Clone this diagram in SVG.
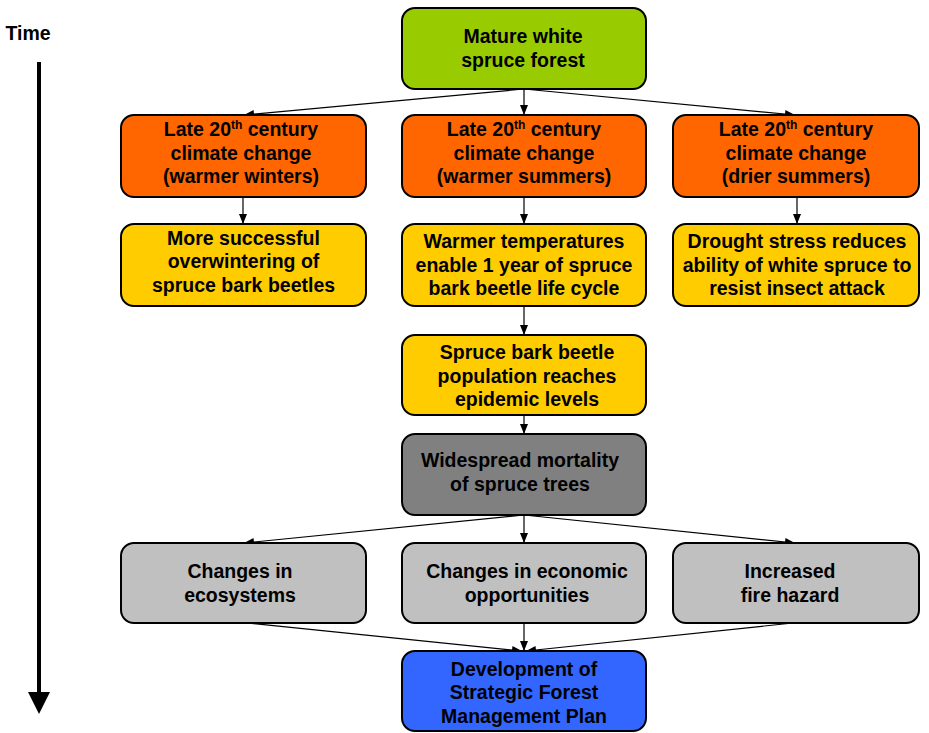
<svg xmlns="http://www.w3.org/2000/svg" width="929" height="733" viewBox="0 0 929 733">
<defs>
<marker id="ah" viewBox="0 0 10 8" refX="10" refY="4" markerWidth="10" markerHeight="8" markerUnits="userSpaceOnUse" orient="auto">
<path d="M0,0 L10,4 L0,8 z" fill="#000"/>
</marker>
</defs>
<style>
.box{stroke:#000;stroke-width:2}
.t{font-family:"Liberation Sans",Arial,sans-serif;font-weight:bold;font-size:19.5px;text-anchor:middle;fill:#000}
.c{stroke:#000;stroke-width:1.2;fill:none;marker-end:url(#ah)}
.green{fill:#99CC00}.orange{fill:#FF6600}.yellow{fill:#FFCC00}.dgray{fill:#808080}.lgray{fill:#C0C0C0}.blue{fill:#3366FF}
</style>
<rect width="929" height="733" fill="#fff"/>
<g id="time">
<text class="t" x="28" y="40">Time</text>
<line x1="39" y1="62" x2="39" y2="694" stroke="#000" stroke-width="4"/>
<path d="M28,692 L50,692 L39,714 z" fill="#000"/>
</g>
<g id="connectors">
<line class="c" x1="524" y1="89" x2="244" y2="115"/>
<line class="c" x1="524" y1="89" x2="524" y2="115"/>
<line class="c" x1="524" y1="89" x2="795" y2="115"/>
<line class="c" x1="243" y1="197" x2="243" y2="224"/>
<line class="c" x1="524" y1="197" x2="524" y2="224"/>
<line class="c" x1="797" y1="197" x2="797" y2="224"/>
<line class="c" x1="524" y1="306" x2="524" y2="335"/>
<line class="c" x1="524" y1="415" x2="524" y2="434"/>
<line class="c" x1="524" y1="515" x2="244" y2="543"/>
<line class="c" x1="524" y1="515" x2="524" y2="543"/>
<line class="c" x1="524" y1="515" x2="795" y2="543"/>
<line class="c" x1="247" y1="623" x2="522" y2="651"/>
<line class="c" x1="524" y1="623" x2="524" y2="651"/>
<line class="c" x1="793" y1="623" x2="526" y2="651"/>
</g>
<g id="n_forest">
<rect class="box green" x="402" y="8" width="244" height="81" rx="13"/>
<text class="t" x="523" y="43">Mature white</text>
<text class="t" x="523" y="67">spruce forest</text>
</g>
<g id="n_winters">
<rect class="box orange" x="121" y="115" width="245" height="82" rx="13"/>
<text class="t" x="241" y="136">Late 20<tspan font-size="12" dy="-7">th</tspan><tspan dy="7"> century</tspan></text>
<text class="t" x="241" y="160">climate change</text>
<text class="t" x="241" y="183">(warmer winters)</text>
</g>
<g id="n_summers">
<rect class="box orange" x="402" y="115" width="244" height="82" rx="13"/>
<text class="t" x="524" y="136">Late 20<tspan font-size="12" dy="-7">th</tspan><tspan dy="7"> century</tspan></text>
<text class="t" x="524" y="160">climate change</text>
<text class="t" x="524" y="183">(warmer summers)</text>
</g>
<g id="n_drier">
<rect class="box orange" x="673" y="115" width="246" height="82" rx="13"/>
<text class="t" x="796" y="136">Late 20<tspan font-size="12" dy="-7">th</tspan><tspan dy="7"> century</tspan></text>
<text class="t" x="796" y="160">climate change</text>
<text class="t" x="796" y="183">(drier summers)</text>
</g>
<g id="n_overwinter">
<rect class="box yellow" x="121" y="224" width="245" height="82" rx="13"/>
<text class="t" x="243.5" y="245">More successful</text>
<text class="t" x="243.5" y="268">overwintering of</text>
<text class="t" x="243.5" y="292">spruce bark beetles</text>
</g>
<g id="n_lifecycle">
<rect class="box yellow" x="402" y="224" width="244" height="82" rx="13"/>
<text class="t" x="524" y="248">Warmer temperatures</text>
<text class="t" x="524" y="272">enable 1 year of spruce</text>
<text class="t" x="524" y="295">bark beetle life cycle</text>
</g>
<g id="n_drought">
<rect class="box yellow" x="673" y="224" width="246" height="82" rx="13"/>
<text class="t" x="797" y="248">Drought stress reduces</text>
<text class="t" x="797" y="272">ability of white spruce to</text>
<text class="t" x="797" y="295">resist insect attack</text>
</g>
<g id="n_epidemic">
<rect class="box yellow" x="402" y="335" width="244" height="80" rx="13"/>
<text class="t" x="527" y="359">Spruce bark beetle</text>
<text class="t" x="527" y="383">population reaches</text>
<text class="t" x="527" y="406">epidemic levels</text>
</g>
<g id="n_mortality">
<rect class="box dgray" x="402" y="434" width="244" height="81" rx="13"/>
<text class="t" x="520" y="467">Widespread mortality</text>
<text class="t" x="520" y="491">of spruce trees</text>
</g>
<g id="n_ecosystems">
<rect class="box lgray" x="121" y="543" width="245" height="80" rx="13"/>
<text class="t" x="240" y="578">Changes in</text>
<text class="t" x="240" y="602">ecosystems</text>
</g>
<g id="n_economic">
<rect class="box lgray" x="402" y="543" width="244" height="80" rx="13"/>
<text class="t" x="527" y="578">Changes in economic</text>
<text class="t" x="527" y="602">opportunities</text>
</g>
<g id="n_fire">
<rect class="box lgray" x="673" y="543" width="246" height="80" rx="13"/>
<text class="t" x="790" y="578">Increased</text>
<text class="t" x="790" y="602">fire hazard</text>
</g>
<g id="n_plan">
<rect class="box blue" x="402" y="651" width="244" height="80" rx="13"/>
<text class="t" x="524" y="676">Development of</text>
<text class="t" x="524" y="699">Strategic Forest</text>
<text class="t" x="524" y="723">Management Plan</text>
</g>
</svg>
